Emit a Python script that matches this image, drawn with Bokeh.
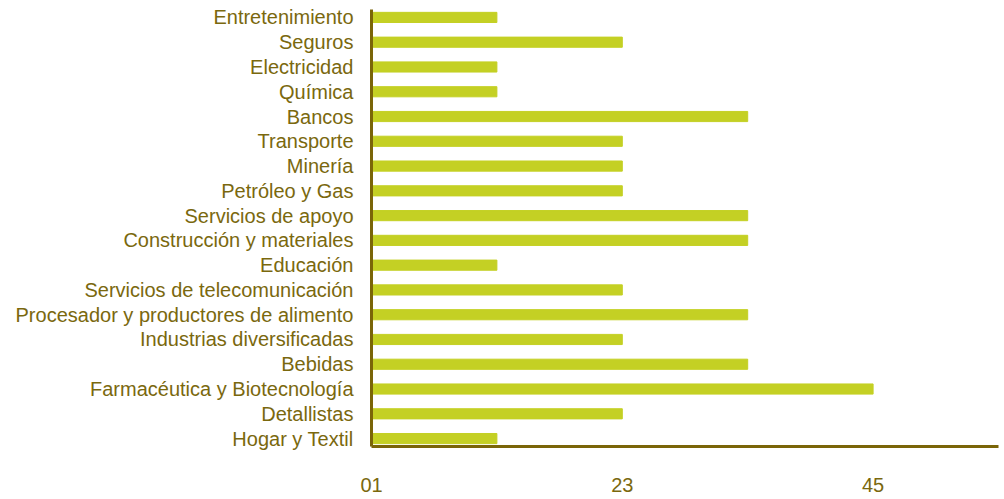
from bokeh.plotting import figure
from bokeh.models import Range1d, FactorRange, FixedTicker
from bokeh.embed import file_html
from bokeh.resources import INLINE

categories = [
    "Entretenimiento", "Seguros", "Electricidad", "Química", "Bancos",
    "Transporte", "Minería", "Petróleo y Gas", "Servicios de apoyo",
    "Construcción y materiales", "Educación", "Servicios de telecomunicación",
    "Procesador y productores de alimento", "Industrias diversificadas",
    "Bebidas", "Farmacéutica y Biotecnología", "Detallistas", "Hogar y Textil",
]
values = [1, 2, 1, 1, 3, 2, 2, 2, 3, 3, 1, 2, 3, 2, 3, 4, 2, 1]
tick_values = [0, 2, 4]
tick_labels = ["01", "23", "45"]

BAR = "#c4d024"
AXIS = "#7a6508"
TEXT = "#7a680e"
FONT = "Liberation Sans"

yr = FactorRange(factors=list(reversed(categories)),
                 range_padding=-0.18, range_padding_units="absolute")
p = figure(width=1000, height=496, y_range=yr, x_range=Range1d(0, 5),
           output_backend="svg", toolbar_location=None,
           min_border_left=371, min_border_right=2, min_border_top=9,
           min_border_bottom=50)
p.hbar(y=categories, right=values, left=0, height=0.41, color=BAR)

p.grid.visible = False
p.outline_line_color = None
p.background_fill_color = "white"
p.border_fill_color = "white"

for ax in (p.xaxis[0], p.yaxis[0]):
    ax.axis_line_color = AXIS
    ax.axis_line_width = 3
    ax.major_tick_line_color = None
    ax.minor_tick_line_color = None
    ax.major_tick_out = 0
    ax.major_tick_in = 0
    ax.major_label_text_color = TEXT
    ax.major_label_text_font = FONT
    ax.major_label_text_font_size = "20px"

p.yaxis[0].major_label_standoff = 18
p.xaxis[0].ticker = FixedTicker(ticks=tick_values)
p.xaxis[0].major_label_overrides = dict(zip(tick_values, tick_labels))
p.xaxis[0].major_label_standoff = 31

open("out.html", "w").write(file_html(p, INLINE))
